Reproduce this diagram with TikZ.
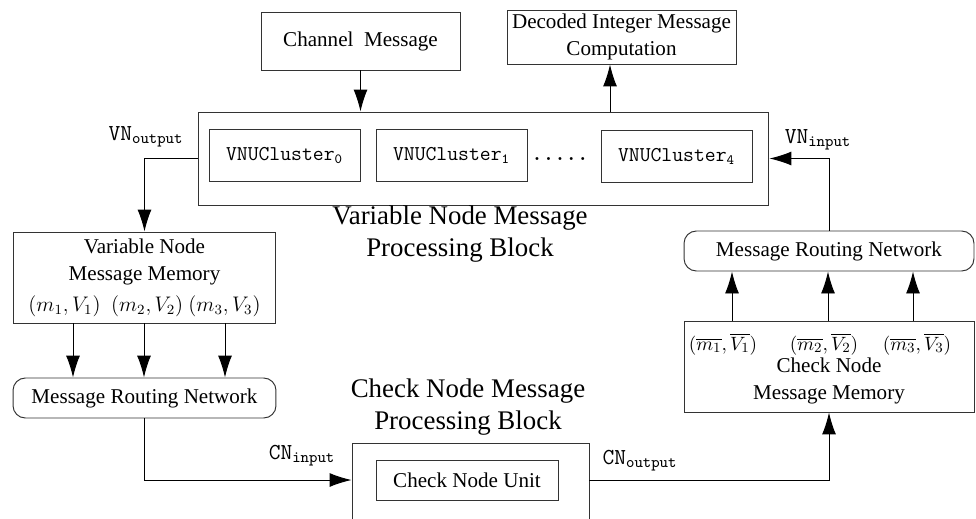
\documentclass[tikz,border=0pt]{standalone}
\usepackage{amsmath,amssymb}
\usepackage{fontspec}
\setmainfont{Liberation Serif}
\usetikzlibrary{arrows.meta}

\begin{document}
\begin{tikzpicture}[x=0.02cm,y=-0.02cm,line width=0.55pt]
      \useasboundingbox (0,0) rectangle (976,518);
      \clip (0,0) rectangle (976,518);
      \tikzset{B/.style = {shape=rectangle, draw=black!80, align=center, inner sep=0pt,
          font=\fontsize{12}{15.5}\selectfont}}
      \tikzset{R/.style = {B, rounded corners=7pt}}
      \tikzset{C/.style = {B, minimum width=3.02cm, minimum height=1.04cm,
          font=\fontsize{12}{14}\ttfamily}}
      \tikzset{T/.style = {align=center, inner sep=0pt, font=\fontsize{15.3}{18}\selectfont}}
      \tikzset{L/.style = {inner sep=0pt, font=\fontsize{13}{15}\ttfamily}}
      \tikzset{E/.style = {draw, -{Latex[length=0.44cm,width=0.28cm]}}}
      % top row
      \node[B, minimum width=3.98cm, minimum height=1.16cm](chm) at (360.5,41) {Channel\ \ Message};
      \node[B, minimum width=4.58cm, minimum height=1.08cm](dec) at (621.5,37) {Decoded Integer Message\\Computation};
      % variable node block
      \node[B, minimum width=11.42cm, minimum height=1.86cm](vnb) at (483.5,158.5) {};
      \node[C](c0) at (284.5,155.5) {VNUCluster$_{\texttt{0}}$};
      \node[C](c1) at (451.5,155.5) {VNUCluster$_{\texttt{1}}$};
      \node[L, anchor=base, font=\fontsize{12.4}{14}\ttfamily\bfseries](dots) at (560,160) {.....};
      \node[C](c4) at (676.5,156.5) {VNUCluster$_{\texttt{4}}$};
      \node[T](vnt) at (460,234) {Variable Node Message\\Processing Block};
      % left side
      \node[B, minimum width=5.26cm, minimum height=1.82cm](vnm) at (144.5,277.5)
          {Variable Node\\Message Memory\\[2pt]$(m_1,V_1)$\ \ $(m_2,V_2)$\ $(m_3,V_3)$};
      \node[R, minimum width=5.26cm, minimum height=0.8cm](vnr) at (144.5,398) {Message Routing Network};
      % check node block
      \node[T](cnt) at (468,407) {Check Node Message\\Processing Block};
      \node[B, minimum width=4.74cm, minimum height=2.34cm](cnb) at (470.5,501.5) {};
      \node[B, minimum width=3.64cm, minimum height=0.8cm](cnu) at (467,480) {Check Node Unit};
      % right side
      \node[B, minimum width=5.8cm, minimum height=1.82cm](cnm) at (829,366.5) {};
      \node[B, draw=none](cnmt) at (829,381) {Check Node\\Message Memory};
      \node[B, draw=none, font=\fontsize{11}{13}\selectfont](p1) at (723,344) {$(\overline{m_1},\overline{V_1})$};
      \node[B, draw=none, font=\fontsize{11}{13}\selectfont](p2) at (824,344) {$(\overline{m_2},\overline{V_2})$};
      \node[B, draw=none, font=\fontsize{11}{13}\selectfont](p3) at (917,344) {$(\overline{m_3},\overline{V_3})$};
      \node[R, minimum width=5.8cm, minimum height=0.8cm](cnr) at (829,251) {Message Routing Network};
      % port labels
      \node[L](vno) at (146,137) {VN$_{\texttt{output}}$};
      \node[L](vni) at (818,140) {VN$_{\texttt{input}}$};
      \node[L](cni) at (302,456) {CN$_{\texttt{input}}$};
      \node[L](cno) at (640,461) {CN$_{\texttt{output}}$};
      % connectors
      \draw[E](chm.south) to (chm.south |- vnb.north);
      \draw[E](vnb.north -| 610,0) to (dec.south -| 610,0);
      \draw[E](vnb.west) -| (vnm.north);
      \draw[E](vnm.south -| 73,0) to (vnr.north -| 73,0);
      \draw[E](vnm.south -| 144,0) to (vnr.north -| 144,0);
      \draw[E](vnm.south -| 225,0) to (vnr.north -| 225,0);
      \draw[E](vnr.south) |- (cnu -| cnb.west);
      \draw[E](cnu -| cnb.east) -| (cnm.south);
      \draw[E](cnm.north -| 732,0) to (cnr.south -| 732,0);
      \draw[E](cnm.north -| 828,0) to (cnr.south -| 828,0);
      \draw[E](cnm.north -| 913,0) to (cnr.south -| 913,0);
      \draw[E](cnr.north) |- (vnb.east);
    \end{tikzpicture}
\end{document}
